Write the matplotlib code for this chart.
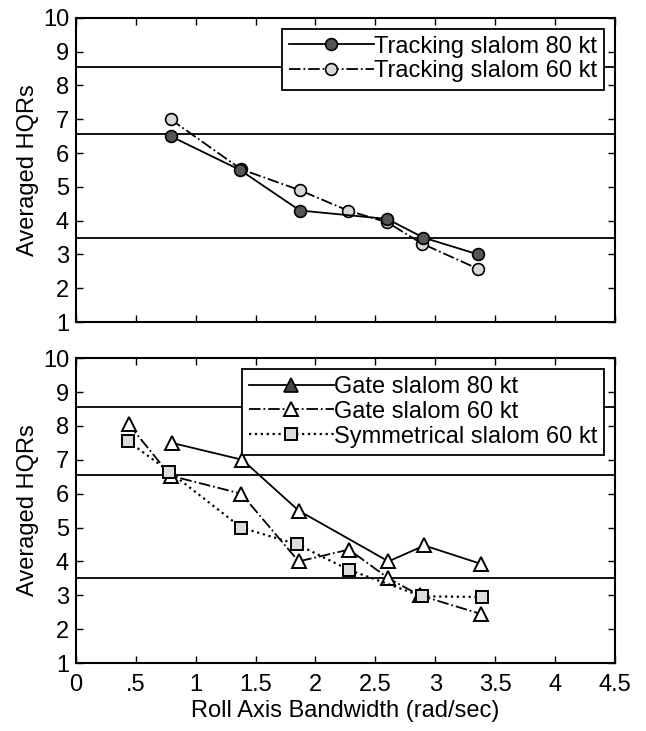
import numpy as np
import matplotlib
matplotlib.use("Agg")
from matplotlib import pyplot as plt
from matplotlib.lines import Line2D

plt.rcParams['font.family'] = ['Liberation Sans', 'DejaVu Sans']

# top panel: tracking slalom
trk80_x = [0.79, 1.37, 1.87, 2.60, 2.90, 3.36]
trk80_y = [6.5, 5.5, 4.3, 4.05, 3.5, 3.0]
trk60_x = [0.79, 1.38, 1.87, 2.27, 2.60, 2.89, 3.36]
trk60_y = [7.0, 5.52, 4.9, 4.3, 3.95, 3.32, 2.57]

# bottom panel: gate / symmetrical slalom
gate80_x = [0.80, 1.39, 1.86, 2.61, 2.91, 3.38]
gate80_y = [7.5, 7.0, 5.5, 4.0, 4.47, 3.93]
gate60_x = [0.44, 0.79, 1.38, 1.86, 2.28, 2.61, 2.87, 3.38]
gate60_y = [8.05, 6.53, 6.0, 4.0, 4.35, 3.5, 3.0, 2.45]
sym60_x = [0.435, 0.78, 1.38, 1.85, 2.28, 2.89, 3.39]
sym60_y = [7.55, 6.65, 5.0, 4.5, 3.75, 2.97, 2.95]

hqr_levels = [8.55, 6.55, 3.5]
xticks = [0, 0.5, 1, 1.5, 2, 2.5, 3, 3.5, 4, 4.5]
xlabels = ['0', '.5', '1', '1.5', '2', '2.5', '3', '3.5', '4', '4.5']

fs = 17
lw = 1.3

fig = plt.figure(figsize=(6.46, 7.31), dpi=100)
ax1 = fig.add_axes([0.1176, 0.5595, 0.834, 0.416])
ax2 = fig.add_axes([0.1176, 0.093, 0.834, 0.417])

for ax in (ax1, ax2):
    for h in hqr_levels:
        ax.axhline(h, color='black', lw=lw, zorder=1)
    ax.set_xlim(0, 4.5)
    ax.set_ylim(1, 10)
    ax.set_xticks(xticks)
    ax.set_yticks(range(1, 11))
    ax.tick_params(direction='in', top=True, right=True, length=5, width=1,
                   labelsize=fs)
    ax.tick_params(axis='y', pad=5)
    ax.tick_params(axis='x', pad=8)
    ax.set_ylabel('Averaged HQRs', fontsize=fs, labelpad=3)
    for s in ax.spines.values():
        s.set_linewidth(1.5)

ax1.set_xticklabels([])
ax2.set_xticklabels(xlabels)
ax2.set_xlabel('Roll Axis Bandwidth (rad/sec)', fontsize=fs, labelpad=3)

legkw = dict(loc='upper right', fontsize=fs, frameon=True, fancybox=False,
             edgecolor='black', framealpha=1, handlelength=3.6,
             handletextpad=0.0, labelspacing=0.12, borderpad=0.3,
             borderaxespad=0.45)

# top
ax1.plot(trk60_x, trk60_y, color='black', ls='-.', lw=lw, marker='o', ms=8.5,
         mfc='#d8d8d8', mec='black', mew=1.2, zorder=3,
         label='Tracking slalom 60 kt')
ax1.plot(trk80_x, trk80_y, color='black', ls='-', lw=lw, marker='o', ms=8.5,
         mfc='#555555', mec='black', mew=1.2, zorder=4,
         label='Tracking slalom 80 kt')
h, l = ax1.get_legend_handles_labels()
leg1 = ax1.legend(h[::-1], l[::-1], **legkw)
leg1.get_frame().set_linewidth(1.3)

# bottom
ax2.plot(gate80_x, gate80_y, color='black', ls='-', lw=lw, marker='^', ms=9.5,
         mfc='white', mec='black', mew=1.4, zorder=4)
ax2.plot(gate60_x, gate60_y, color='black', ls='-.', lw=lw, marker='^', ms=9.5,
         mfc='white', mec='black', mew=1.4, zorder=3)
ax2.plot(sym60_x, sym60_y, color='black', ls=':', lw=1.6, marker='s', ms=8,
         mfc='#dddddd', mec='black', mew=1.4, zorder=3)

handles = [
    Line2D([], [], color='black', ls='-', lw=lw, marker='^', ms=9.5,
           mfc='#444444', mec='black', mew=1.2),
    Line2D([], [], color='black', ls='-.', lw=lw, marker='^', ms=9.5,
           mfc='white', mec='black', mew=1.4),
    Line2D([], [], color='black', ls=':', lw=1.6, marker='s', ms=8,
           mfc='#dddddd', mec='black', mew=1.4),
]
labels = ['Gate slalom 80 kt', 'Gate slalom 60 kt', 'Symmetrical slalom 60 kt']
leg2 = ax2.legend(handles, labels, **legkw)
leg2.get_frame().set_linewidth(1.3)

fig.savefig('out.png', dpi=100)
